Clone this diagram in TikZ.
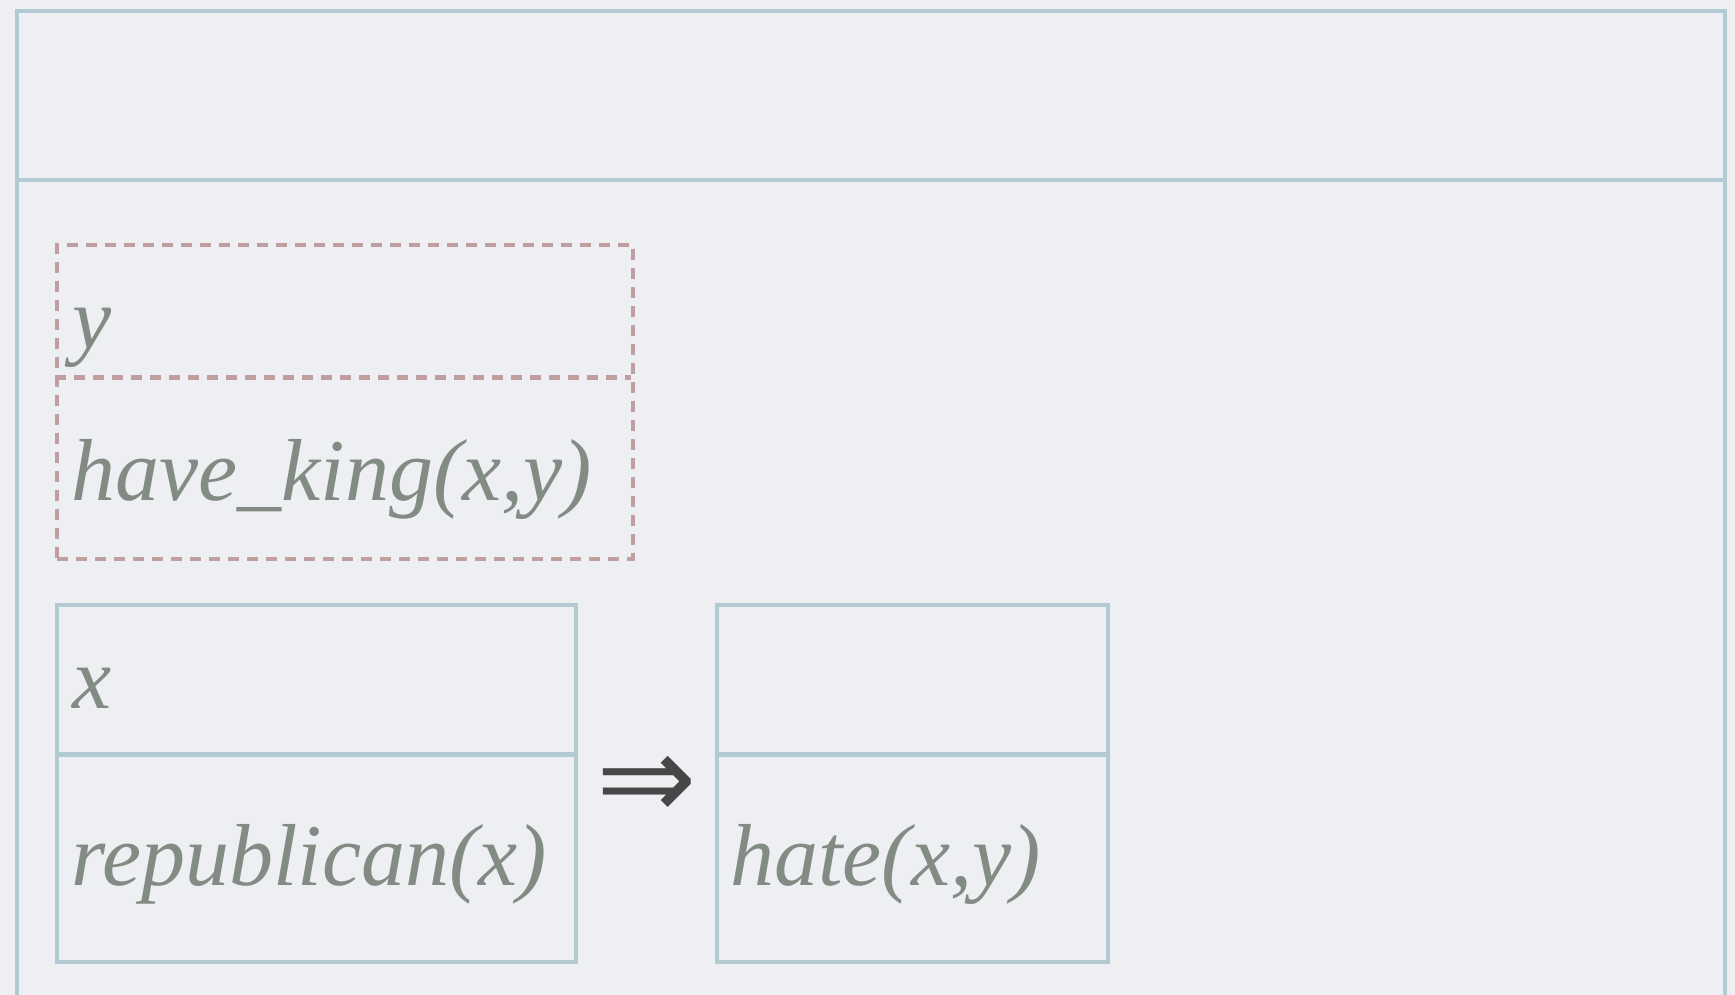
\documentclass[tikz,border=0pt]{standalone}
\usepackage{fontspec}
\newfontfamily\lblfont{Liberation Serif}
\newfontfamily\symfont{DejaVu Sans}
\definecolor{bgcol}{HTML}{EEEFF2}
\definecolor{framecol}{HTML}{B3CAD3}
\definecolor{dashcol}{HTML}{BE9E9E}
\definecolor{txtcol}{HTML}{838C84}
\definecolor{arrcol}{HTML}{474747}
\begin{document}
\begin{tikzpicture}[x=0.5pt,y=-0.5pt,
  framebox/.style={draw=framecol,line width=2.2pt,rectangle,inner sep=0pt,anchor=north west},
  dashbox/.style={draw=dashcol,line width=2.1pt,dash pattern=on 5.5pt off 4pt,rectangle,inner sep=0pt,anchor=north west},
  dashline/.style={draw=dashcol,line width=2.1pt,dash pattern=on 5.5pt off 4pt},
  frameline/.style={draw=framecol,line width=2.2pt},
  lbl/.style={text=txtcol,font=\lblfont\fontsize{44}{52}\selectfont\itshape,anchor=base west,inner sep=0pt}]
\fill[bgcol] (0,0) rectangle (1735,995);
\useasboundingbox (0,0) rectangle (1735,995);
\begin{scope}
\clip (0,0) rectangle (1735,995);
\coordinate (oTL) at (17,11);
\coordinate (oTR) at (1725,11);
\coordinate (oBL) at (17,1010);
\coordinate (oBR) at (1725,1010);
\coordinate (oDL) at (17,180);
\coordinate (oDR) at (1725,180);
\draw[frameline] (oBL) -- (oTL) -- (oTR) -- (oBR);
\draw[frameline] (oDL) -- (oDR);
\end{scope}
% dashed box
\node[dashbox,minimum width=287.75pt,minimum height=157pt] (dbox) at (55,242.5) {};
\coordinate (dL) at (55,377.5);
\coordinate (dR) at (630.5,377.5);
\draw[dashline] (dL) -- (dR);
\node[lbl] (ty) at (72,348) {y};
\node[lbl] (thk) at (71,500) {have\_king(x,y)};
% left box
\node[framebox,minimum width=259.5pt,minimum height=178.25pt] (lbox) at (55,603) {};
\coordinate (lL) at (55,754.5);
\coordinate (lR) at (574,754.5);
\draw[frameline] (lL) -- (lR);
\node[lbl] (tx) at (72,708) {x};
\node[lbl] (trep) at (71,885) {republican(x)};
% implication
\node[text=arrcol,font=\symfont\fontsize{60}{66}\selectfont,inner sep=0pt] (imp) at (647,788) {⇒};
% right box
\node[framebox,minimum width=195.5pt,minimum height=178.25pt] (rbox) at (715,603) {};
\coordinate (rL) at (715,754.5);
\coordinate (rR) at (1106,754.5);
\draw[frameline] (rL) -- (rR);
\node[lbl] (thate) at (730,885) {hate(x,y)};
\end{tikzpicture}
\end{document}
